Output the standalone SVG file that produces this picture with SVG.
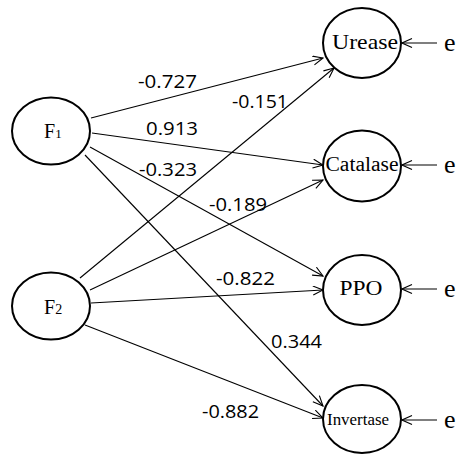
<svg xmlns="http://www.w3.org/2000/svg" width="461" height="454" viewBox="0 0 461 454">
<style>
.node{fill:#fff;stroke:#000;stroke-width:2}
.nt{font-family:"Liberation Serif","Times New Roman",serif;fill:#000}
.lbl{font-family:"Open Sans","Noto Sans",sans-serif;font-size:18.5px;fill:#000}
.edge{stroke:#000;stroke-width:1.1;fill:none;marker-end:url(#arr)}
</style>
<defs>
<marker id="arr" markerUnits="userSpaceOnUse" markerWidth="12" markerHeight="12" refX="11" refY="5" orient="auto">
<path d="M1,0.5 L11,5 L1,9.5" fill="none" stroke="#000" stroke-width="1.1"/>
</marker>
</defs>
<rect width="461" height="454" fill="#fff"/>
<g id="connectors">
<line class="edge" x1="91" y1="118" x2="323" y2="58"/>
<line class="edge" x1="80" y1="278" x2="334" y2="68"/>
<line class="edge" x1="92" y1="133" x2="323" y2="165"/>
<line class="edge" x1="90" y1="290" x2="323" y2="180"/>
<line class="edge" x1="90" y1="147" x2="323" y2="276"/>
<line class="edge" x1="85" y1="155" x2="323" y2="406"/>
<line class="edge" x1="91" y1="303" x2="323" y2="290"/>
<line class="edge" x1="85" y1="325" x2="323" y2="418"/>
<line class="edge" x1="437" y1="43" x2="402" y2="43"/>
<line class="edge" x1="437" y1="165" x2="402" y2="165"/>
<line class="edge" x1="437" y1="289" x2="402" y2="289"/>
<line class="edge" x1="437" y1="420" x2="402" y2="420"/>
</g>
<g id="labels">
<text class="lbl" x="138" y="88" textLength="59" lengthAdjust="spacingAndGlyphs">-0.727</text>
<text class="lbl" x="232" y="108" textLength="56" lengthAdjust="spacingAndGlyphs">-0.151</text>
<text class="lbl" x="146" y="135" textLength="52" lengthAdjust="spacingAndGlyphs">0.913</text>
<text class="lbl" x="139" y="176" textLength="58" lengthAdjust="spacingAndGlyphs">-0.323</text>
<text class="lbl" x="209" y="211" textLength="58" lengthAdjust="spacingAndGlyphs">-0.189</text>
<text class="lbl" x="216" y="285" textLength="59" lengthAdjust="spacingAndGlyphs">-0.822</text>
<text class="lbl" x="271" y="348" textLength="51" lengthAdjust="spacingAndGlyphs">0.344</text>
<text class="lbl" x="202" y="418" textLength="57" lengthAdjust="spacingAndGlyphs">-0.882</text>
</g>
<g id="F1">
<ellipse class="node" cx="51" cy="131" rx="39" ry="33.5"/>
<text class="nt" x="44" y="138" font-size="20">F<tspan font-size="13">1</tspan></text>
</g>
<g id="F2">
<ellipse class="node" cx="51" cy="306" rx="39" ry="33.5"/>
<text class="nt" x="44" y="314" font-size="20">F<tspan font-size="14">2</tspan></text>
</g>
<g id="Urease">
<ellipse class="node" cx="362" cy="43" rx="39" ry="35"/>
<text class="nt" x="365" y="49" font-size="22" text-anchor="middle" textLength="66" lengthAdjust="spacingAndGlyphs">Urease</text>
</g>
<g id="Catalase">
<ellipse class="node" cx="362" cy="166" rx="39" ry="35.5"/>
<text class="nt" x="362" y="171" font-size="20" text-anchor="middle" textLength="73" lengthAdjust="spacingAndGlyphs">Catalase</text>
</g>
<g id="PPO">
<ellipse class="node" cx="362" cy="290" rx="39" ry="35"/>
<text class="nt" x="361" y="295" font-size="22" text-anchor="middle" textLength="43" lengthAdjust="spacingAndGlyphs">PPO</text>
</g>
<g id="Invertase">
<ellipse class="node" cx="362" cy="419" rx="39" ry="34"/>
<text class="nt" x="358" y="425" font-size="17" text-anchor="middle" textLength="62" lengthAdjust="spacingAndGlyphs">Invertase</text>
</g>
<g id="errors">
<text class="nt" x="444" y="51" font-size="26">e</text>
<text class="nt" x="444" y="173" font-size="26">e</text>
<text class="nt" x="444" y="297" font-size="26">e</text>
<text class="nt" x="444" y="428" font-size="26">e</text>
</g>
</svg>
